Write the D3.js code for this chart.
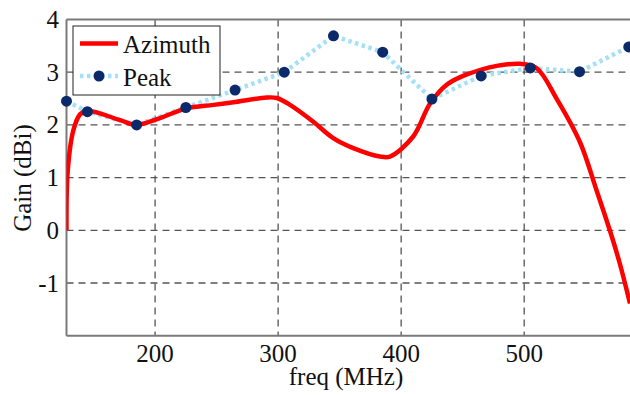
<!DOCTYPE html>
<html><head><meta charset="utf-8">
<script src="https://cdn.jsdelivr.net/npm/d3@7"></script>
<style>body{margin:0;background:#fff}svg{display:block}</style>
</head><body><svg id="c" width="630" height="395"></svg>
<script>
const xTicks = [200, 300, 400, 500];
const yTicks = [-1, 0, 1, 2, 3, 4];
const azFreq = [128, 129, 133.6, 139, 144.8, 171.6, 184.6, 204, 225, 247.4, 263.6, 290.7, 298.9, 309.7, 328.6, 344.8, 361.1, 382.8, 390.9, 409.8, 423.4, 437, 450.4, 464, 477.6, 496.5, 510, 526.3, 545.2, 558.8, 569.6, 577.7, 586];
const azGain = [0, 1.13, 1.9, 2.2, 2.27, 2.09, 2.0, 2.13, 2.31, 2.38, 2.43, 2.52, 2.51, 2.38, 2.06, 1.75, 1.56, 1.40, 1.40, 1.78, 2.4, 2.76, 2.93, 3.04, 3.12, 3.16, 3.08, 2.5, 1.68, 0.76, 0, -0.63, -1.39];
const pkFreq = [128, 145, 185, 225, 265, 305, 345, 385, 425, 465, 505, 545, 585];
const pkGain = [2.45, 2.25, 2.0, 2.33, 2.66, 3.0, 3.69, 3.38, 2.49, 2.93, 3.08, 3.01, 3.48];
const seriesNames = ["Azimuth", "Peak"];

const svg = d3.select("#c");
const L = 66.5, R = 630, T = 19.5, B = 335.7;
const x = d3.scaleLinear().domain([128, 586]).range([L, R]);
const y = d3.scaleLinear().domain([-2, 4]).range([B, T]);
const font = "'Liberation Serif','Times New Roman',serif";

// grid
svg.append("g").selectAll("line").data(xTicks).join("line")
  .attr("x1", d => x(d)).attr("x2", d => x(d)).attr("y1", T).attr("y2", B)
  .attr("stroke", "#555").attr("stroke-width", 1.3).attr("stroke-dasharray", "7,5");
svg.append("g").selectAll("line").data(yTicks.filter(d => d < 4)).join("line")
  .attr("x1", L).attr("x2", R).attr("y1", d => y(d)).attr("y2", d => y(d))
  .attr("stroke", "#555").attr("stroke-width", 1.3).attr("stroke-dasharray", "7,5");

// axes frame
svg.append("line").attr("x1", L).attr("x2", L).attr("y1", T).attr("y2", B).attr("stroke", "#7a7a7a").attr("stroke-width", 2);
svg.append("line").attr("x1", L).attr("x2", R).attr("y1", B).attr("y2", B).attr("stroke", "#7a7a7a").attr("stroke-width", 2);
svg.append("line").attr("x1", L).attr("x2", R).attr("y1", T).attr("y2", T).attr("stroke", "#7a7a7a").attr("stroke-width", 2);

// tick labels
svg.append("g").selectAll("text").data(xTicks).join("text")
  .attr("x", d => x(d)).attr("y", 362).attr("text-anchor", "middle")
  .attr("font-family", font).attr("font-size", 25).attr("fill", "#111").text(d => d);
svg.append("g").selectAll("text").data(yTicks).join("text")
  .attr("x", 59).attr("y", d => y(d) + 8.5).attr("text-anchor", "end")
  .attr("font-family", font).attr("font-size", 25).attr("fill", "#111").text(d => d);

svg.append("text").attr("x", 346).attr("y", 385).attr("text-anchor", "middle")
  .attr("font-family", font).attr("font-size", 25).attr("fill", "#111").text("freq (MHz)");
svg.append("text").attr("transform", "translate(31,178) rotate(-90)").attr("text-anchor", "middle")
  .attr("font-family", font).attr("font-size", 25).attr("fill", "#111").text("Gain (dBi)");

svg.append("clipPath").attr("id", "cp").append("rect")
  .attr("x", L).attr("y", T - 10).attr("width", R - L + 10).attr("height", B - T + 10);

const plot = svg.append("g");
// Peak dotted line
const pk = pkFreq.map((f, i) => [f, pkGain[i]]);
plot.append("path").datum(pk)
  .attr("d", d3.line().x(d => x(d[0])).y(d => y(d[1])))
  .attr("fill", "none").attr("stroke", "#a4e0f7").attr("stroke-width", 4.5)
  .attr("stroke-dasharray", "3.5,3.5");
// Azimuth
const az = azFreq.map((f, i) => [f, azGain[i]]);
plot.append("path").datum(az)
  .attr("d", d3.line().curve(d3.curveCatmullRom.alpha(0.5)).x(d => x(d[0])).y(d => y(d[1])))
  .attr("fill", "none").attr("stroke", "#ff0000").attr("stroke-width", 4.5)
  .attr("stroke-linejoin", "round").attr("clip-path", "url(#cp)");
// Peak markers
plot.append("g").selectAll("circle").data(pk).join("circle")
  .attr("cx", d => x(d[0])).attr("cy", d => y(d[1])).attr("r", 5.5).attr("fill", "#0c2a6a");

// legend
const lg = svg.append("g");
lg.append("rect").attr("x", 73).attr("y", 26).attr("width", 147).attr("height", 69)
  .attr("fill", "#fff").attr("stroke", "#222").attr("stroke-width", 1);
lg.append("line").attr("x1", 80).attr("x2", 118).attr("y1", 43.5).attr("y2", 43.5)
  .attr("stroke", "#ff0000").attr("stroke-width", 4.5);
lg.append("line").attr("x1", 80).attr("x2", 118).attr("y1", 76).attr("y2", 76)
  .attr("stroke", "#a4e0f7").attr("stroke-width", 4.5).attr("stroke-dasharray", "3.5,3.5");
lg.append("circle").attr("cx", 99).attr("cy", 76).attr("r", 5.5).attr("fill", "#0c2a6a");
lg.selectAll("text.l").data(seriesNames).join("text").attr("class", "l")
  .attr("x", 123).attr("y", (d, i) => 52.5 + i * 33)
  .attr("font-family", font).attr("font-size", 25).attr("fill", "#111").text(d => d);
</script></body></html>
